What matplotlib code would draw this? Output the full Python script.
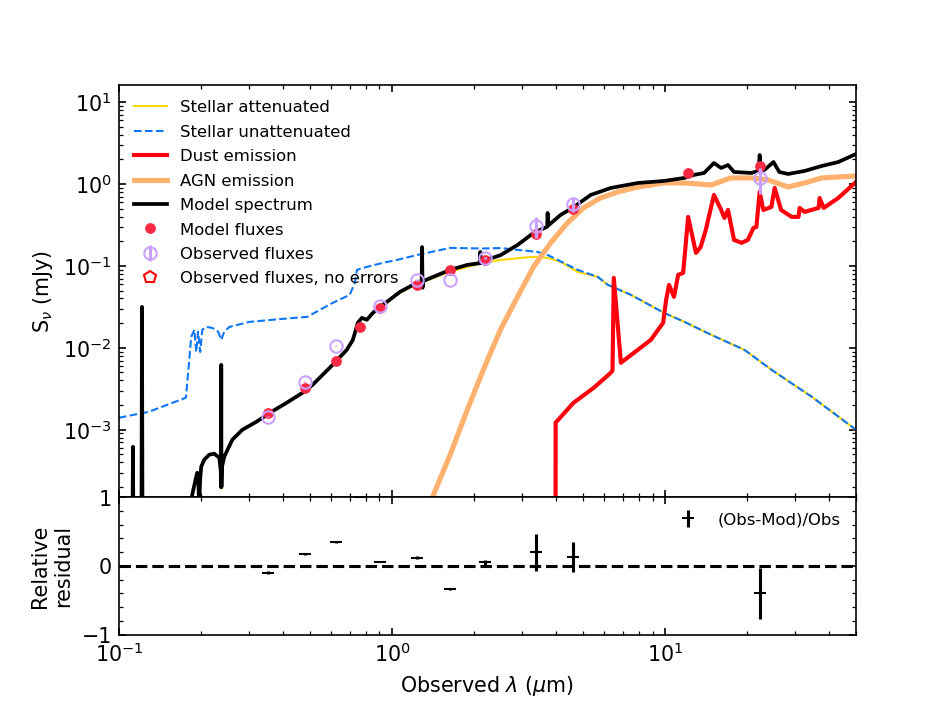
import numpy as np
import matplotlib
matplotlib.use("Agg")
import matplotlib.pyplot as plt
from matplotlib.ticker import MultipleLocator, AutoMinorLocator

# ---------------- data (wavelength in micron, flux in mJy) ----------------
stel_unatt_wl = [0.1, 0.129, 0.176, 0.181, 0.184, 0.189, 0.192, 0.195, 0.1985, 0.202,
                 0.209, 0.22, 0.231, 0.237, 0.243, 0.254, 0.30, 0.40, 0.49, 0.544,
                 0.607, 0.70, 0.731, 0.744, 0.81, 0.927, 1.04, 1.24, 1.634, 2.161,
                 2.5, 3.41, 3.715, 4.786, 5.672, 6.17, 7.499, 9.915, 11.75, 14.76,
                 19.52, 24.54, 34.42, 50.0]
stel_unatt_S = [1.40e-3, 1.66e-3, 2.46e-3, 7.1e-3, 0.0136, 0.0166, 8.9e-3, 0.0157, 8.9e-3, 0.0166,
                0.018, 0.0175, 0.0157, 0.0125, 0.0157, 0.018, 0.0207, 0.0226, 0.0239, 0.029,
                0.0354, 0.0443, 0.062, 0.0893, 0.0973, 0.109, 0.118, 0.136, 0.1658, 0.163,
                0.165, 0.148, 0.136, 0.0894, 0.0734, 0.0587, 0.0443, 0.0267, 0.0208, 0.0144,
                9.45e-3, 5.39e-3, 2.53e-3, 1.0e-3]

stel_att_wl = [0.1, 0.183, 0.1855, 0.1919, 0.1936, 0.1968, 0.2002, 0.2054, 0.2143, 0.2235,
               0.2331, 0.2368, 0.2385, 0.2432, 0.2602, 0.2833, 0.3189, 0.3559, 0.4111, 0.4709,
               0.5125, 0.5436, 0.6067, 0.6833, 0.719, 0.7499, 0.7757, 0.8092, 0.8514, 0.9034,
               0.9585, 1.07, 1.195, 1.415, 1.634, 1.887, 2.161, 2.495, 2.88, 3.299,
               3.715, 4.146, 4.786, 5.672, 6.17, 7.499, 9.915, 11.75, 14.76, 19.52,
               24.54, 34.42, 50.0]
stel_att_S = [3e-5, 3e-5, 1.6e-4, 2.67e-4, 2.99e-4, 1.2e-4, 3.54e-4, 4.31e-4, 4.96e-4, 5.1e-4,
              4.56e-4, 1.9e-4, 3.5e-4, 4.69e-4, 7.55e-4, 1.0e-3, 1.25e-3, 1.6e-3, 2.13e-3, 2.83e-3,
              3.54e-3, 4.31e-3, 6.21e-3, 9.45e-3, 0.0125, 0.0195, 0.0228, 0.0216, 0.0262, 0.031,
              0.0357, 0.047, 0.057, 0.071, 0.085, 0.097, 0.1088, 0.118, 0.124, 0.1288,
              0.1252, 0.112, 0.0845, 0.0734, 0.0587, 0.0443, 0.0267, 0.0208, 0.0144, 9.45e-3,
              5.39e-3, 2.53e-3, 1.0e-3]

dust_wl = [3.97, 3.975, 4.62, 5.48, 6.33, 6.42, 6.49, 6.89, 7.95, 8.87,
           9.84, 10.09, 10.34, 10.78, 11.17, 11.65, 12.15, 12.98, 13.5, 14.1,
           15.1, 16.05, 16.5, 17.0, 17.89, 19.07, 20.1, 21.07, 21.6, 22.2,
           22.9, 24.5, 25.2, 26.6, 29.1, 30.8, 31.1, 32.4, 36.5, 36.8,
           38.1, 43.1, 50.0]
dust_S = [1e-5, 1.22e-3, 2.13e-3, 3.25e-3, 4.96e-3, 5.3e-3, 0.0714, 6.57e-3, 9.45e-3, 0.0125,
          0.0202, 0.0385, 0.0587, 0.0419, 0.0777, 0.0821, 0.396, 0.144, 0.17, 0.275,
          0.734, 0.482, 0.385, 0.482, 0.2075, 0.191, 0.2075, 0.291, 0.299, 0.799,
          0.482, 0.524, 0.894, 0.482, 0.396, 0.396, 0.51, 0.456, 0.51, 0.675,
          0.51, 0.675, 1.058]

agn_wl = [1.30, 1.634, 1.887, 2.161, 2.495, 2.882, 3.299, 3.81, 4.39,
          5.03, 5.8, 6.72, 7.95, 9.915, 11.75, 14.76, 17.4, 20.71, 23.9,
          28.2, 32.4, 37.5, 50.0]
agn_S = [8e-5, 4.96e-4, 1.75e-3, 5.4e-3, 0.0166, 0.0419, 0.0972, 0.1908, 0.3345,
         0.51, 0.675, 0.799, 0.919, 1.028, 1.028, 0.972, 1.184, 1.184, 1.119,
         0.919, 1.028, 1.184, 1.252]

model_wl = [0.1, 0.112, 0.1126, 0.1132, 0.1209, 0.1215, 0.1221, 0.183, 0.1855, 0.1919,
            0.1936, 0.1955, 0.1968, 0.1985, 0.2002, 0.2054, 0.2143, 0.2235, 0.2331, 0.236,
            0.2367, 0.2371, 0.2375, 0.2385, 0.2432, 0.2602, 0.2833, 0.3189, 0.3559, 0.4111,
            0.4709, 0.5125, 0.5436, 0.6067, 0.6833, 0.719, 0.7499, 0.7757, 0.8092, 0.8514,
            0.9034, 0.9585, 1.07, 1.195, 1.284, 1.289, 1.294, 1.30, 1.415, 1.634,
            1.887, 2.10, 2.106, 2.112, 2.161, 2.495, 2.882, 3.299, 3.70, 3.715,
            3.73, 4.146, 4.62, 5.342, 6.33, 7.95, 9.915, 11.75, 12.74, 13.9,
            15.1, 16.05, 17.0, 17.89, 20.71, 22.0, 22.2, 22.4, 23.1, 24.95,
            26.2, 28.2, 32.4, 37.5, 43.1, 50.0]
model_S = [3e-5, 3e-5, 6.2e-4, 3e-5, 3e-5, 0.0316, 3e-5, 3e-5, 1.6e-4, 2.67e-4,
           2.99e-4, 2.2e-4, 1.2e-4, 2.5e-4, 3.54e-4, 4.31e-4, 4.96e-4, 5.1e-4, 4.56e-4, 3.2e-4,
           2.0e-4, 6.2e-3, 2.0e-4, 3.5e-4, 4.69e-4, 7.55e-4, 1.0e-3, 1.25e-3, 1.6e-3, 2.13e-3,
           2.83e-3, 3.54e-3, 4.31e-3, 6.21e-3, 9.45e-3, 0.0125, 0.0202, 0.0232, 0.022, 0.0267,
           0.0316, 0.0364, 0.0482, 0.0587, 0.063, 0.17, 0.054, 0.065, 0.0734, 0.0894,
           0.1028, 0.108, 0.148, 0.108, 0.115, 0.135, 0.18, 0.2526, 0.30, 0.443,
           0.31, 0.419, 0.52, 0.734, 0.894, 1.028, 1.088, 1.184, 1.288, 1.362,
           1.803, 1.566, 1.706, 1.401, 1.362, 1.45, 2.258, 1.5, 1.48, 1.854,
           1.401, 1.324, 1.44, 1.658, 1.854, 2.32]

filt_wl = [0.353, 0.479, 0.622, 0.763, 0.904, 1.236, 1.634, 2.197, 3.38, 4.62, 12.1, 22.36]
mod_flux = [1.6e-3, 3.2e-3, 6.9e-3, 0.018, 0.0306, 0.059, 0.0898, 0.119, 0.246, 0.50, 1.36, 1.64]
obs_flux = [1.45e-3, 3.85e-3, 1.06e-2, np.nan, 0.0325, 0.0675, 0.0675, 0.125, 0.307, 0.57, np.nan, 1.17]
obs_err = [3e-5, 4e-5, 1e-4, np.nan, 3e-4, 1.3e-3, 7e-4, 4e-3, 0.085, 0.12, np.nan, 0.41]
noerr_wl = []
noerr_flux = []

resid = [-0.1, 0.17, 0.35, 1.0, 0.06, 0.12, -0.33, 0.05, 0.2, 0.13, np.nan, -0.4]
resid_err = [0.02, 0.01, 0.01, 0.0, 0.01, 0.02, 0.015, 0.03, 0.27, 0.22, np.nan, 0.37]

# ---------------- figure ----------------
DPI = 148.6
fig = plt.figure(figsize=(6.4, 4.8), dpi=DPI)
gs = fig.add_gridspec(2, 1, height_ratios=[3, 1], hspace=0,
                      left=0.125, right=0.9, top=0.88, bottom=0.11)
ax1 = fig.add_subplot(gs[0])
ax2 = fig.add_subplot(gs[1], sharex=ax1)

ax1.loglog(stel_att_wl, stel_att_S, color='gold', ls='-', lw=1.0, label='Stellar attenuated')
ax1.loglog(stel_unatt_wl, stel_unatt_S, color='xkcd:deep sky blue', ls='--', lw=1.0,
           label='Stellar unattenuated')
ax1.loglog(dust_wl, dust_S, color='xkcd:bright red', ls='-', lw=2.0, label='Dust emission')
ax1.loglog(agn_wl, agn_S, color='xkcd:apricot', ls='-', lw=2.5, label='AGN emission')
ax1.loglog(model_wl, model_S, color='k', ls='-', lw=1.8, label='Model spectrum')
ax1.plot(filt_wl, mod_flux, ls='', marker='o', ms=4.2, color='xkcd:strawberry',
         zorder=3, label='Model fluxes')
ax1.errorbar(filt_wl, obs_flux, yerr=obs_err, ls='', marker='o', ms=6,
             markerfacecolor='None', markeredgecolor='xkcd:pastel purple',
             color='xkcd:pastel purple', capsize=0, zorder=4, label='Observed fluxes')
ax1.errorbar(noerr_wl, noerr_flux, ls='', marker='p', ms=6, markerfacecolor='None',
             markeredgecolor='r', color='r', capsize=0, label='Observed fluxes, no errors')

ax1.set_xlim(0.1, 50)
ax1.set_ylim(1.5e-4, 16)
ax1.set_ylabel(r'S$_\nu$ (mJy)')
ax1.tick_params(which='both', direction='in', top=True, right=True, labelbottom=False)
ax1.legend(fontsize=8, loc='upper left', frameon=False, labelspacing=0.57)

ax2.errorbar(filt_wl, resid, yerr=resid_err, marker='_', ls='None', color='k',
             capsize=0, ms=6, label='(Obs-Mod)/Obs')
ax2.plot([0.1, 50], [0.0, 0.0], ls='--', color='k', lw=1.5)
ax2.set_xscale('log')
ax2.set_xlim(0.1, 50)
ax2.set_ylim(-1, 1)
ax2.yaxis.set_major_locator(MultipleLocator(1))
ax2.yaxis.set_minor_locator(AutoMinorLocator(5))
ax2.tick_params(which='both', direction='in', top=True, right=True)
ax2.set_xlabel(r'Observed $\lambda$ ($\mu$m)')
ax2.set_ylabel('Relative\nresidual')
ax2.legend(fontsize=8, loc='upper right', frameon=False)

fig.savefig('out.png', dpi=DPI)
